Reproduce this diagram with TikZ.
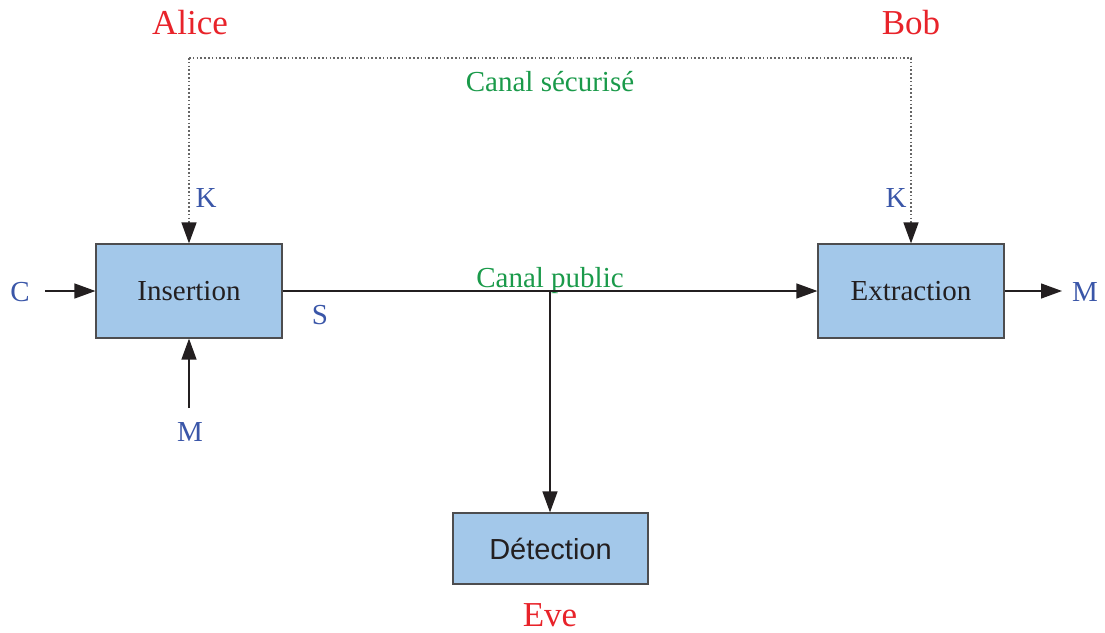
\documentclass[tikz,border=0pt]{standalone}
\usepackage{fontspec}
\setmainfont{Liberation Serif}
\newfontfamily\arialfont{Liberation Sans}
\usetikzlibrary{arrows.meta}
\definecolor{boxfill}{HTML}{A3C8EA}
\definecolor{boxdraw}{HTML}{4D4D4F}
\definecolor{lblblue}{HTML}{3A56A8}
\definecolor{lblgreen}{HTML}{1A9A4A}
\definecolor{lblred}{HTML}{E8232A}
\definecolor{txtdark}{HTML}{231F20}
\tikzset{
  blockbox/.style={draw=boxdraw, fill=boxfill, line width=1.2pt, inner sep=0pt, text=txtdark, font=\fontsize{29}{34}\selectfont},
  sig/.style={text=lblblue, font=\fontsize{29}{34}\selectfont, inner sep=0pt},
  chan/.style={text=lblgreen, font=\fontsize{29}{34}\selectfont, inner sep=0pt},
  who/.style={text=lblred, font=\fontsize{35}{40}\selectfont, inner sep=0pt},
  conn/.style={draw=txtdark, line width=1.3pt, -{Triangle[length=21pt,width=15pt]}},
  secure/.style={draw=gray!80!black, line width=1.5pt, dash pattern=on 1.6pt off 2.2pt, -{Triangle[length=21pt,width=15pt,color=txtdark]}}
}
\begin{document}
\begin{tikzpicture}[x=1pt,y=-1pt]
\useasboundingbox (0,0) rectangle (1105,632);
\node[blockbox, minimum width=186pt, minimum height=94pt] (ins) at (189,291) {\raisebox{-1.5pt}{Insertion}};
\node[blockbox, minimum width=186pt, minimum height=94pt] (ext) at (911,291) {\raisebox{-1.5pt}{Extraction}};
\node[blockbox, minimum width=195pt, minimum height=71pt, font=\arialfont\fontsize{29}{34}\selectfont] (det) at (550.5,548.5) {Détection};
\node[sig] (c) at (20,292) {C};
\coordinate (cstart) at (45,291);
\node[sig] (min) at (190,432) {M};
\coordinate (mstart) at (189,408);
\node[sig] (mout) at (1085,292) {M};
\coordinate (mend) at (1062,291);
\node[sig] (k1) at (206,198) {K};
\node[sig] (k2) at (896,198) {K};
\node[sig] (s) at (320,315) {S};
\node[chan] (cs) at (550,82) {Canal sécurisé};
\node[chan] (cp) at (550,281) {Canal public};
\node[who] (alice) at (190,23) {Alice};
\node[who] (bob) at (911,23) {Bob};
\node[who] (eve) at (550,615) {Eve};
\coordinate (tap) at (550,291);
\coordinate (tl) at (189,58);
\coordinate (tr) at (911,58);
\draw[conn] (cstart) -- (ins.west);
\draw[conn] (mstart) -- (ins.south);
\draw[conn] (ins.east) -- (ext.west);
\draw[conn] (tap) -- (tap |- det.north);
\draw[conn] (ext.east) -- (mend);
\draw[secure] (tl) -- (tr) -- (ext.north);
\draw[secure] (tl) -- (ins.north);
\end{tikzpicture}
\end{document}
